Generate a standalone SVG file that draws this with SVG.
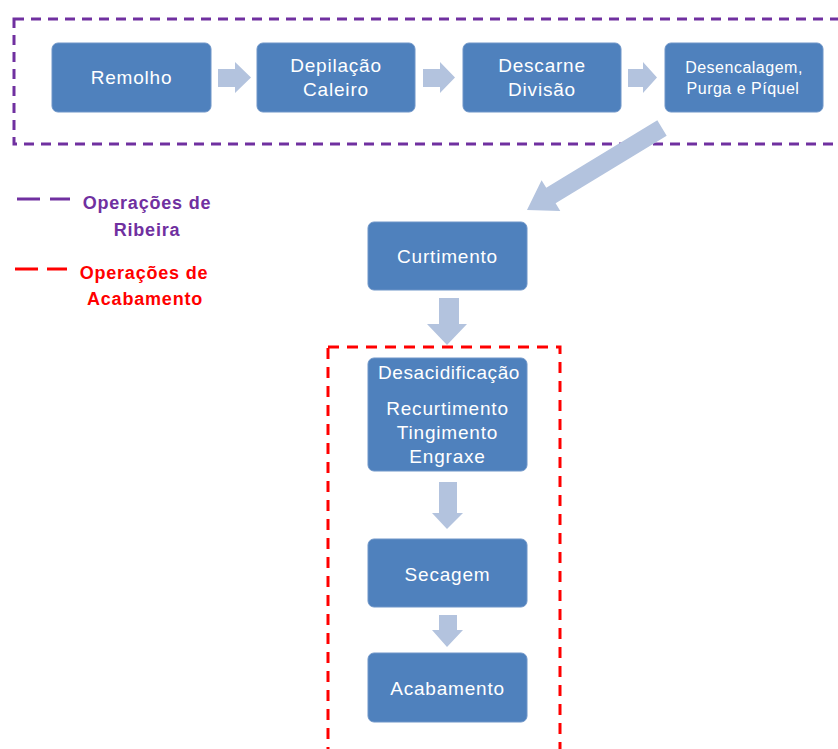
<svg xmlns="http://www.w3.org/2000/svg" width="838" height="749" viewBox="0 0 838 749">
  <style>
    .node rect { fill: #4F81BD; stroke: #6E95C8; stroke-width: 1; }
    .node text { fill: #FFFFFF; font-family: "Liberation Sans", Arial, sans-serif; font-size: 19px; letter-spacing: 0.8px; text-anchor: middle; dominant-baseline: central; }
    .node text.small { font-size: 16px; letter-spacing: 0.5px; }
    .arrow { fill: #B3C3DE; }
    .legend { font-family: "Liberation Sans", Arial, sans-serif; font-size: 18px; letter-spacing: 0.8px; font-weight: bold; text-anchor: middle; dominant-baseline: central; }
  </style>

  <!-- group borders -->
  <rect x="14" y="19" width="840" height="125" fill="none" stroke="#7030A0" stroke-width="3" stroke-dasharray="10 7"/>
  <rect x="328" y="347" width="232" height="420" fill="none" stroke="#FF0000" stroke-width="3" stroke-dasharray="11 8"/>

  <!-- legend -->
  <g id="legend">
    <line x1="17" y1="199" x2="70" y2="199" stroke="#7030A0" stroke-width="3" stroke-dasharray="23 10"/>
    <text class="legend" x="147" y="203" fill="#7030A0">Operações de</text>
    <text class="legend" x="147" y="230" fill="#7030A0">Ribeira</text>
    <line x1="15" y1="269" x2="67" y2="269" stroke="#FF0000" stroke-width="3" stroke-dasharray="23 9"/>
    <text class="legend" x="144" y="273" fill="#FF0000">Operações de</text>
    <text class="legend" x="145" y="299" fill="#FF0000">Acabamento</text>
  </g>

  <!-- connectors -->
  <g id="connectors">
    <polygon class="arrow" points="218,69 235,69 235,62 251,77.5 235,93 235,87 218,87"/>
    <polygon class="arrow" points="423,69 440,69 440,62 455,77.5 440,93 440,87 423,87"/>
    <polygon class="arrow" points="628,69 643,69 643,62 657,77.5 643,93 643,87 628,87"/>
    <g transform="translate(662,128) rotate(148.7)">
      <polygon class="arrow" points="0,-9 130,-9 130,-18 158,0 130,18 130,9 0,9"/>
    </g>
    <polygon class="arrow" points="439,298 459,298 459,324 467,324 447,345 427,324 439,324"/>
    <polygon class="arrow" points="439,482 457,482 457,513 463,513 447,529 432,513 439,513"/>
    <polygon class="arrow" points="439,615 457,615 457,630 463,630 447,647 432,630 439,630"/>
  </g>

  <!-- process nodes -->
  <g id="remolho" class="node">
    <rect x="52" y="43" width="159" height="69" rx="6"/>
    <text x="131.5" y="77">Remolho</text>
  </g>
  <g id="depilacao" class="node">
    <rect x="257" y="43" width="158" height="69" rx="6"/>
    <text x="336" y="65">Depilação</text>
    <text x="336" y="89">Caleiro</text>
  </g>
  <g id="descarne" class="node">
    <rect x="463" y="43" width="158" height="69" rx="6"/>
    <text x="542" y="65">Descarne</text>
    <text x="542" y="89">Divisão</text>
  </g>
  <g id="desencalagem" class="node">
    <rect x="665" y="43" width="158" height="69" rx="6"/>
    <text class="small" x="744" y="67">Desencalagem,</text>
    <text class="small" x="743" y="88">Purga e Píquel</text>
  </g>
  <g id="curtimento" class="node">
    <rect x="368" y="222" width="159" height="68" rx="6"/>
    <text x="447.5" y="256">Curtimento</text>
  </g>
  <g id="desacidificacao" class="node">
    <rect x="368" y="358" width="159" height="113" rx="6"/>
    <text x="449" y="372" style="letter-spacing:0.6px">Desacidificação</text>
    <text x="447.5" y="408">Recurtimento</text>
    <text x="447.5" y="432">Tingimento</text>
    <text x="447.5" y="456">Engraxe</text>
  </g>
  <g id="secagem" class="node">
    <rect x="368" y="539" width="159" height="68" rx="6"/>
    <text x="447.5" y="574">Secagem</text>
  </g>
  <g id="acabamento" class="node">
    <rect x="368" y="653" width="159" height="69" rx="6"/>
    <text x="447.5" y="688">Acabamento</text>
  </g>
</svg>
